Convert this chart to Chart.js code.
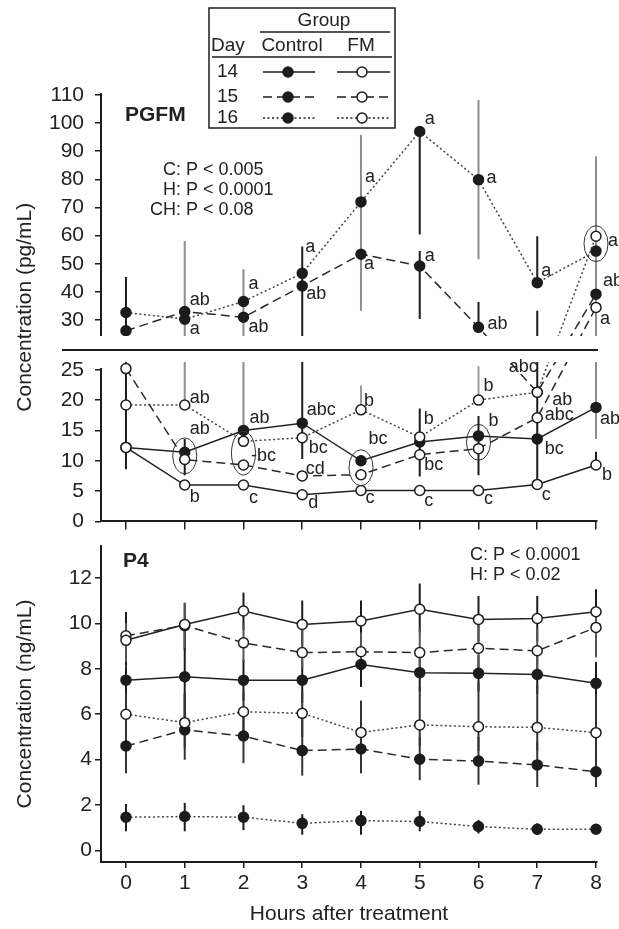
<!DOCTYPE html>
<html><head><meta charset="utf-8">
<script src="https://cdn.jsdelivr.net/npm/chart.js@4.4.1/dist/chart.umd.min.js"></script>
<style>
html,body{margin:0;padding:0;background:#fff;}
#wrap{position:relative;width:619px;height:929px;overflow:hidden;background:#fff;}
#c1{position:absolute;left:0;top:0;}
#c2{position:absolute;left:0;top:530px;}
</style></head><body>
<div id="wrap">
<canvas id="c1" width="619" height="545"></canvas>
<canvas id="c2" width="619" height="399"></canvas>
</div>
<script>
// ---------------- DATA ----------------
const HOURS = [0, 1, 2, 3, 4, 5, 6, 7, 8];
const DAYS = ['14', '15', '16'];
const GROUPS = ['Control', 'FM'];
const PGFM_TICKS = [0, 5, 10, 15, 20, 25, 30, 40, 50, 60, 70, 80, 90, 100, 110];
const P4_TICKS = [0, 2, 4, 6, 8, 10, 12];
const N = null;

// PGFM (pg/mL) means
const PGFM_CTRL_14 = [12.2, 11.4, 15.0, 16.2, 10.0, 13.1, 14.1, 13.6, 18.8];
const PGFM_CTRL_15 = [26.2, 33.0, 31.0, 42.1, 53.4, 49.2, 27.4, 21.3, 39.2];
const PGFM_CTRL_16 = [32.7, 30.3, 36.6, 46.6, 72.0, 97.0, 79.9, 43.3, 54.5];
const PGFM_FM_14 = [12.2, 6.0, 6.0, 4.4, 5.1, 5.1, 5.1, 6.1, 9.3];
const PGFM_FM_15 = [25.2, 10.2, 9.3, 7.5, 7.7, 11.0, 12.0, 17.1, 34.5];
const PGFM_FM_16 = [19.2, 19.2, 13.2, 13.8, 18.4, 13.9, 20.0, 21.3, 59.8];

// PGFM error bar ends (low / high), null = no bar drawn
const PGFM_CTRL_14_LO = [N, 7.6, N, 10.3, N, 7.4, 7.6, N, N];
const PGFM_CTRL_14_HI = [N, 13.6, N, 16.2, N, 18.6, 17.4, N, N];
const PGFM_CTRL_15_LO = [N, N, N, N, N, 30.4, 27.4, 6.1, N];
const PGFM_CTRL_15_HI = [N, N, N, N, N, 54.5, 36.4, 33.3, N];
const PGFM_CTRL_16_LO = [8.6, N, N, 16.2, N, 60.4, N, 43.3, N];
const PGFM_CTRL_16_HI = [45.3, N, N, 56.1, N, 97.0, N, 59.8, N];
const PGFM_FM_14_LO = [N, N, N, N, N, N, N, N, 9.3];
const PGFM_FM_14_HI = [N, N, N, N, N, N, N, N, 11.5];
const PGFM_FM_15_LO = [N, N, N, N, 18.4, N, 20.0, N, N];
const PGFM_FM_15_HI = [N, N, N, N, 22.4, N, 25.6, N, N];
const PGFM_FM_16_LO = [N, 19.2, 13.2, N, 33.3, N, 51.6, N, 13.6];
const PGFM_FM_16_HI = [N, 58.1, 48.1, N, 95.8, N, 108.2, N, 88.2];

// P4 (ng/mL) means
const P4_CTRL_14 = [7.50, 7.65, 7.50, 7.50, 8.19, 7.83, 7.80, 7.75, 7.36];
const P4_CTRL_15 = [4.60, 5.31, 5.04, 4.40, 4.47, 4.02, 3.94, 3.77, 3.47];
const P4_CTRL_16 = [1.47, 1.50, 1.47, 1.20, 1.32, 1.28, 1.06, 0.94, 0.94];
const P4_FM_14 = [9.25, 9.95, 10.54, 9.95, 10.10, 10.62, 10.17, 10.21, 10.51];
const P4_FM_15 = [9.45, 9.90, 9.14, 8.71, 8.75, 8.71, 8.90, 8.79, 9.82];
const P4_FM_16 = [6.00, 5.63, 6.11, 6.04, 5.20, 5.53, 5.45, 5.42, 5.19];

// P4 error bar ends
const P4_CTRL_14_LO = [6.5, 5.6, 6.6, 6.5, 7.2, 7.0, 7.0, 6.9, 6.6];
const P4_CTRL_14_HI = [8.1, 9.7, 8.4, 8.4, 9.0, 8.7, 8.6, 8.6, 8.3];
const P4_CTRL_15_LO = [3.4, 4.0, 3.85, 3.3, 3.4, 3.1, 2.9, 2.8, 2.8];
const P4_CTRL_15_HI = [5.9, 6.95, 5.9, 5.85, 5.5, 5.0, 5.0, 4.8, 4.6];
const P4_CTRL_16_LO = [0.85, 0.85, 0.9, 0.7, 0.7, 0.85, 0.75, 0.7, 0.75];
const P4_CTRL_16_HI = [2.05, 2.1, 2.0, 1.6, 1.75, 1.75, 1.35, 1.2, 1.15];
const P4_FM_14_LO = [8.1, 8.8, 9.7, 9.0, 8.6, 9.6, 9.2, 9.2, 10.0];
const P4_FM_14_HI = [10.5, 10.9, 11.35, 11.0, 11.0, 11.75, 11.2, 11.2, 11.5];
const P4_FM_15_LO = [8.3, 8.9, 8.3, 8.0, 8.0, 8.0, 8.0, 8.0, 8.5];
const P4_FM_15_HI = [10.0, 10.9, 10.0, 9.8, 9.6, 9.8, 9.9, 9.8, 10.6];
const P4_FM_16_LO = [5.0, 4.5, 5.1, 5.0, 4.2, 4.6, 4.4, 4.4, 4.3];
const P4_FM_16_HI = [6.9, 6.9, 7.0, 7.0, 6.6, 7.2, 7.4, 7.3, 6.9];

// significance letters: [series, hour, text, dx, dy]
const PGFM_LETTERS = [
  ['C15', 1, 'ab', 15, -12], ['C16', 1, 'a', 10, 10],
  ['C16', 2, 'a', 10, -17], ['C15', 2, 'ab', 15, 10],
  ['C16', 3, 'a', 8, -26], ['C15', 3, 'ab', 14, 8],
  ['C16', 4, 'a', 9, -25], ['C15', 4, 'a', 8, 10],
  ['C16', 5, 'a', 10, -13], ['C15', 5, 'a', 10, -10],
  ['C16', 6, 'a', 13, -2], ['C15', 6, 'ab', 19, -3],
  ['C16', 7, 'a', 9, -12],
  ['C16', 8, 'a', 17, -10], ['C15', 8, 'ab', 17, -13], ['F15', 8, 'a', 9, 12],
  ['F16', 1, 'ab', 15, -7], ['C14', 1, 'ab', 15, -23], ['F14', 1, 'b', 10, 12],
  ['C14', 2, 'ab', 16, -12], ['F15', 2, '-bc', 20, -9], ['F14', 2, 'c', 10, 13],
  ['C14', 3, 'abc', 19, -13], ['F16', 3, 'bc', 16, 10], ['F15', 3, 'cd', 13, -7], ['F14', 3, 'd', 11, 8],
  ['F16', 4, 'b', 8, -9], ['C14', 4, 'bc', 17, -22], ['F14', 4, 'c', 9, 8],
  ['C14', 5, 'b', 9, -23], ['F15', 5, 'bc', 14, 10], ['F14', 5, 'c', 9, 11],
  ['F16', 6, 'b', 10, -14], ['C14', 6, 'b', 15, -15], ['F14', 6, 'c', 10, 9],
  ['F16', 7, 'abc', -14, -25], ['C15', 7, 'ab', 25, 8], ['F15', 7, 'abc', 22, -3],
  ['C14', 7, 'bc', 17, 10], ['F14', 7, 'c', 9, 11],
  ['C14', 8, 'ab', 14, 12], ['F14', 8, 'b', 11, 10]
];
// pairs of points circled: [hour, series A, series B]
const PGFM_CIRCLED = [[1, 'C14', 'F15'], [2, 'F16', 'F15'], [4, 'C14', 'F15'], [6, 'C14', 'F15'], [8, 'F16', 'C16']];

const PGFM_STATS = [['C:', 'P < 0.005'], ['H:', 'P < 0.0001'], ['CH:', 'P < 0.08']];
const P4_STATS = ['C: P < 0.0001', 'H: P < 0.02'];

// ---------------- SETUP ----------------
const FONT = '"Liberation Sans", Arial, Helvetica, sans-serif';
Chart.defaults.font.family = FONT;
Chart.defaults.color = '#222';
const INK = '#1c1c1c';
const X_MIN = -0.425, X_MAX = 8.017;

const PGFM = {C14: PGFM_CTRL_14, C15: PGFM_CTRL_15, C16: PGFM_CTRL_16, F14: PGFM_FM_14, F15: PGFM_FM_15, F16: PGFM_FM_16};
const PGFM_LO = {C14: PGFM_CTRL_14_LO, C15: PGFM_CTRL_15_LO, C16: PGFM_CTRL_16_LO, F14: PGFM_FM_14_LO, F15: PGFM_FM_15_LO, F16: PGFM_FM_16_LO};
const PGFM_HI = {C14: PGFM_CTRL_14_HI, C15: PGFM_CTRL_15_HI, C16: PGFM_CTRL_16_HI, F14: PGFM_FM_14_HI, F15: PGFM_FM_15_HI, F16: PGFM_FM_16_HI};
const P4 = {C14: P4_CTRL_14, C15: P4_CTRL_15, C16: P4_CTRL_16, F14: P4_FM_14, F15: P4_FM_15, F16: P4_FM_16};
const P4_LO = {C14: P4_CTRL_14_LO, C15: P4_CTRL_15_LO, C16: P4_CTRL_16_LO, F14: P4_FM_14_LO, F15: P4_FM_15_LO, F16: P4_FM_16_LO};
const P4_HI = {C14: P4_CTRL_14_HI, C15: P4_CTRL_15_HI, C16: P4_CTRL_16_HI, F14: P4_FM_14_HI, F15: P4_FM_15_HI, F16: P4_FM_16_HI};

const ORDER = ['F14', 'F15', 'F16', 'C14', 'C15', 'C16']; // first = drawn on top
const DASH = {14: [], 15: [9, 5], 16: [2, 2.5]};
const LINECOL = {14: '#222', 15: '#2a2a2a', 16: '#444'};
const PGFM_BARCOL = {C14: INK, C15: INK, C16: INK, F14: INK, F15: '#9a9a9a', F16: '#8e8e8e'};
const P4_BARCOL = {C14: INK, C15: '#333', C16: INK, F14: INK, F15: '#555', F16: '#333'};

// broken linear axis: lower segment 0-25.3, upper segment 24.3-110.7
const BRK = {lowMax: 25.3, highMin: 24.3, highMax: 110.7, split: 25.7, lowFrac: 154 / 430, highFrac: 244 / 430};
class BrokenScale extends Chart.LinearScale {
  upperBottom() { return this.top + (this.bottom - this.top) * BRK.highFrac; }
  lowerTop() { return this.bottom - (this.bottom - this.top) * BRK.lowFrac; }
  getPixelForValue(v) {
    if (v === null || v === undefined || isNaN(v)) return NaN;
    const h = this.bottom - this.top;
    if (v < BRK.split) return this.bottom - (v / BRK.lowMax) * h * BRK.lowFrac;
    return this.top + (BRK.highMax - v) / (BRK.highMax - BRK.highMin) * h * BRK.highFrac;
  }
  getValueForPixel(p) {
    const h = this.bottom - this.top;
    if (p >= this.lowerTop()) return (this.bottom - p) / (h * BRK.lowFrac) * BRK.lowMax;
    return BRK.highMax - (p - this.top) / (h * BRK.highFrac) * (BRK.highMax - BRK.highMin);
  }
}
BrokenScale.id = 'broken';
BrokenScale.defaults = {};
Chart.register(BrokenScale);

function mkDatasets(map) {
  return ORDER.map(k => {
    const day = k.slice(1), fm = k[0] === 'F';
    return {
      label: k,
      data: HOURS.map((h, i) => ({x: h, y: map[k][i]})),
      borderColor: LINECOL[day], borderWidth: 1.5, borderDash: DASH[day],
      pointRadius: 5, pointBorderWidth: 1.5, pointBorderColor: INK,
      pointBackgroundColor: fm ? '#ffffff' : INK,
      tension: 0, fill: false, clip: false
    };
  });
}
function barsFrom(lo, hi, col) {
  const out = [];
  Object.keys(lo).forEach(k => HOURS.forEach((h, i) => {
    if (lo[k][i] !== null && hi[k][i] !== null) out.push({h, lo: lo[k][i], hi: hi[k][i], color: col[k]});
  }));
  return out;
}
function drawBars(ctx, x, y, bars) {
  ctx.lineWidth = 2;
  bars.forEach(b => {
    const px = x.getPixelForValue(b.h);
    ctx.strokeStyle = b.color;
    ctx.beginPath();
    ctx.moveTo(px, y.getPixelForValue(b.lo));
    ctx.lineTo(px, y.getPixelForValue(b.hi));
    ctx.stroke();
  });
}
function text(ctx, s, x, y, size, align, bold) {
  ctx.font = (bold ? 'bold ' : '') + size + 'px ' + FONT;
  ctx.textAlign = align || 'left';
  ctx.textBaseline = 'middle';
  ctx.fillStyle = '#222';
  ctx.fillText(s, x, y);
}
function hline(ctx, x1, x2, y, w, dash) {
  ctx.save();
  ctx.lineWidth = w; ctx.strokeStyle = INK; ctx.setLineDash(dash || []);
  ctx.beginPath(); ctx.moveTo(x1, y); ctx.lineTo(x2, y); ctx.stroke();
  ctx.restore();
}
function marker(ctx, x, y, filled) {
  ctx.save();
  ctx.beginPath(); ctx.arc(x, y, 5, 0, Math.PI * 2);
  ctx.fillStyle = filled ? INK : '#fff'; ctx.fill();
  ctx.lineWidth = 1.5; ctx.strokeStyle = INK; ctx.stroke();
  ctx.restore();
}
function drawLegend(ctx) {
  ctx.save();
  ctx.strokeStyle = INK; ctx.lineWidth = 1.5;
  ctx.strokeRect(209, 8, 186, 120);
  text(ctx, 'Group', 324, 21, 19, 'center');
  hline(ctx, 260, 390, 32, 1.5);
  text(ctx, 'Day', 211, 46, 19, 'left');
  text(ctx, GROUPS[0], 292, 46, 19, 'center');
  text(ctx, GROUPS[1], 361, 46, 19, 'center');
  hline(ctx, 212, 392, 57, 1.5);
  const rowsY = [72, 97, 118];
  DAYS.forEach((d, i) => {
    const y = rowsY[i];
    text(ctx, d, 217, y, 19, 'left');
    hline(ctx, 263, 315, y, 1.5, DASH[d]);
    hline(ctx, 337, 390, y, 1.5, DASH[d]);
    marker(ctx, 288, y, true);
    marker(ctx, 362, y, false);
  });
  ctx.restore();
}

const PGFM_BARS = barsFrom(PGFM_LO, PGFM_HI, PGFM_BARCOL);
const P4_BARS = barsFrom(P4_LO, P4_HI, P4_BARCOL);

const pgfmDecor = {
  id: 'pgfmDecor',
  beforeDatasetsDraw(chart) {
    const {ctx, scales: {x, y}} = chart;
    ctx.save();
    ctx.beginPath();
    ctx.rect(0, 0, chart.width, y.upperBottom());
    ctx.rect(0, y.lowerTop() - 6, chart.width, chart.height);
    ctx.clip();
    drawBars(ctx, x, y, PGFM_BARS);
  },
  afterDatasetsDraw(chart) {
    const {ctx, scales: {x, y}, chartArea} = chart;
    ctx.restore();
    // broken y axis segments and break line
    ctx.save();
    ctx.strokeStyle = INK; ctx.lineWidth = 2;
    ctx.beginPath();
    ctx.moveTo(chartArea.left, chartArea.top); ctx.lineTo(chartArea.left, y.upperBottom());
    ctx.moveTo(chartArea.left, y.lowerTop()); ctx.lineTo(chartArea.left, chartArea.bottom);
    ctx.stroke();
    ctx.restore();
    hline(ctx, 62, 598, y.upperBottom() + 14, 2);
    // circled clusters
    ctx.save();
    ctx.strokeStyle = '#333'; ctx.lineWidth = 1;
    PGFM_CIRCLED.forEach(([h, a, b]) => {
      const i = HOURS.indexOf(h);
      const ya = y.getPixelForValue(PGFM[a][i]), yb = y.getPixelForValue(PGFM[b][i]);
      const cy = (ya + yb) / 2, ry = Math.max(Math.abs(ya - yb) / 2 + 10, 18);
      ctx.beginPath();
      ctx.ellipse(x.getPixelForValue(h), cy, 12, ry, 0, 0, Math.PI * 2);
      ctx.stroke();
    });
    ctx.restore();
    // letters
    PGFM_LETTERS.forEach(([k, h, s, dx, dy]) => {
      const i = HOURS.indexOf(h);
      text(ctx, s, x.getPixelForValue(h) + dx, y.getPixelForValue(PGFM[k][i]) + dy, 18, 'center');
    });
    text(ctx, 'PGFM', 125, 115, 21, 'left', true);
    PGFM_STATS.forEach(([a, b], j) => {
      text(ctx, a, 181, 170 + j * 20, 18, 'right');
      text(ctx, b, 186, 170 + j * 20, 18, 'left');
    });
  },
  afterDraw(chart) { drawLegend(chart.ctx); }
};

const p4Decor = {
  id: 'p4Decor',
  beforeDatasetsDraw(chart) {
    const {ctx, scales: {x, y}} = chart;
    ctx.save();
    drawBars(ctx, x, y, P4_BARS);
    ctx.restore();
  },
  afterDatasetsDraw(chart) {
    const ctx = chart.ctx;
    text(ctx, 'P4', 123, 31, 21, 'left', true);
    P4_STATS.forEach((s, j) => text(ctx, s, 470, 25 + j * 20, 18, 'left'));
  }
};

const tickGrid = (len) => ({drawOnChartArea: false, drawTicks: true, tickLength: len, color: INK, lineWidth: 1.5});

new Chart(document.getElementById('c1'), {
  type: 'line',
  data: {datasets: mkDatasets(PGFM)},
  options: {
    responsive: false, animation: false, events: [],
    layout: {padding: {top: 93, right: 22, bottom: 0, left: 0}},
    plugins: {legend: {display: false}, tooltip: {enabled: false}},
    scales: {
      x: {
        type: 'linear', position: 'bottom', min: X_MIN, max: X_MAX,
        afterBuildTicks: s => { s.ticks = HOURS.map(v => ({value: v})); },
        afterFit: s => { s.height = 22; },
        border: {display: true, color: INK, width: 2},
        grid: tickGrid(8),
        ticks: {display: false}
      },
      y: {
        type: 'broken', position: 'left', min: 0, max: 110.7,
        afterBuildTicks: s => { s.ticks = PGFM_TICKS.map(v => ({value: v})); },
        afterFit: s => { s.width = 101; },
        border: {display: false},
        grid: tickGrid(6),
        ticks: {padding: 11, autoSkip: false, font: {size: 21}, color: '#222', callback: v => String(v)},
        title: {display: true, text: 'Concentration (pg/mL)', font: {size: 21}, color: '#222', padding: {top: 13, bottom: 0}}
      }
    }
  },
  plugins: [pgfmDecor]
});

new Chart(document.getElementById('c2'), {
  type: 'line',
  data: {datasets: mkDatasets(P4)},
  options: {
    responsive: false, animation: false, events: [],
    layout: {padding: {top: 16, right: 22, bottom: 0, left: 0}},
    plugins: {legend: {display: false}, tooltip: {enabled: false}},
    scales: {
      x: {
        type: 'linear', position: 'bottom', min: X_MIN, max: X_MAX,
        afterBuildTicks: s => { s.ticks = HOURS.map(v => ({value: v})); },
        afterFit: s => { s.height = 67; },
        border: {display: true, color: INK, width: 2},
        grid: tickGrid(6),
        ticks: {padding: 3, autoSkip: false, maxRotation: 0, font: {size: 21}, color: '#222', callback: v => String(v)},
        title: {display: true, text: 'Hours after treatment', font: {size: 21}, color: '#222', padding: {top: 0, bottom: 2}}
      },
      y: {
        type: 'linear', position: 'left', min: -0.5, max: 13.4,
        afterBuildTicks: s => { s.ticks = P4_TICKS.map(v => ({value: v})); },
        afterFit: s => { s.width = 101; },
        border: {display: true, color: INK, width: 2},
        grid: tickGrid(6),
        ticks: {padding: 3, autoSkip: false, font: {size: 21}, color: '#222', callback: v => String(v)},
        title: {display: true, text: 'Concentration (ng/mL)', font: {size: 21}, color: '#222', padding: {top: 13, bottom: 0}}
      }
    }
  },
  plugins: [p4Decor]
});
</script>
</body></html>
